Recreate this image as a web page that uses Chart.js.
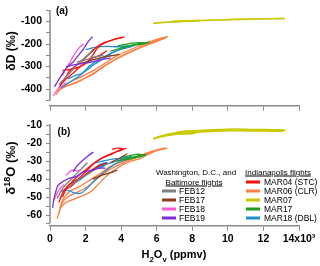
<!DOCTYPE html>
<html>
<head>
<meta charset="utf-8">
<script src="https://cdn.jsdelivr.net/npm/chart.js@4"></script>
<style>
  body { margin: 0; background: #fff; }
  #wrap { position: relative; width: 320px; height: 266px; overflow: hidden; font-family: "Liberation Sans", Arial, sans-serif; }
  canvas { position: absolute; left: 0; }
  .t { position: absolute; white-space: nowrap; color: #000; }
  .rot { transform: translate(-50%, -50%) rotate(-90deg); font-weight: bold; font-size: 12px; }
  .lab { font-weight: bold; font-size: 10px; transform: translate(-50%, -50%); }
  .hdr { font-size: 8px; transform: translate(-50%, -50%); }
  .item { font-size: 8.5px; transform: translateY(-50%); }
  .sw { position: absolute; height: 3px; width: 14px; transform: translateY(-50%); }
  sub, sup { font-size: 70%; }
</style>
</head>
<body>
<div id="wrap">
  <canvas id="chartD" width="320" height="116" style="top:0"></canvas>
  <canvas id="chartO" width="320" height="156" style="top:110px"></canvas>

  <div class="t lab" style="left:62px;top:10px">(a)</div>
  <div class="t lab" style="left:64px;top:131px">(b)</div>
  <div class="t rot" style="left:11px;top:51px">δD (‰)</div>
  <div class="t rot" style="left:10px;top:168px;font-size:13px">δ<sup>18</sup>O (‰)</div>
  <div class="t" style="left:174px;top:256px;transform:translate(-50%,-50%);font-weight:bold;font-size:11px">H<sub>2</sub>O<sub>v</sub> (ppmv)</div>

  <div class="t hdr" style="left:196px;top:172px">Washington, D.C., and</div>
  <div class="t hdr" style="left:194px;top:181.5px;text-decoration:underline">Baltimore flights</div>
  <div class="t hdr" style="left:278px;top:172px;text-decoration:underline">Indianapolis flights</div>
  <div id="legend"></div>
</div>

<script>
// x values in ppmv x 10^3
const xTicks = [0, 2, 4, 6, 8, 10, 12, 14];
const dDTicks = [-50, -100, -150, -200, -250, -300, -350, -400, -450];
const d18OTicks = [-10, -15, -20, -25, -30, -35, -40, -45, -50, -55, -60, -65];

// Washington, D.C., and Baltimore flights
const feb12D = [
  [[0.5,-380],[0.8,-355],[1.1,-330],[1.5,-295],[1.9,-265],[2.3,-235],[2.4,-222]],
  [[1.5,-280],[2.0,-270],[2.5,-258],[3.0,-250]]
];
const feb12O = [
  [[0.4,-51],[0.6,-47],[0.9,-43],[1.2,-40],[1.5,-37],[1.8,-34],[2.1,-31]],
  [[1.0,-45],[1.5,-41],[2.0,-38],[2.5,-35]]
];
const feb17D = [
  [[1.8,-285],[2.4,-270],[3.0,-258],[3.6,-250],[3.9,-245]]
];
const feb17O = [
  [[2.4,-40],[2.9,-38],[3.4,-36.5],[3.8,-35]],
  [[3.4,-31],[3.9,-28.5],[4.35,-26]]
];
const feb18D = [
  [[0.2,-430],[0.35,-410],[0.5,-395],[0.7,-385],[0.9,-370]],
  [[0.7,-340],[0.9,-310],[1.1,-285],[1.3,-255],[1.5,-230],[1.7,-212],[1.9,-200]]
];
const feb18O = [
  [[0.2,-52],[0.3,-50],[0.45,-47],[0.6,-45],[0.8,-43]],
  [[0.9,-38],[1.1,-36],[1.3,-35],[1.5,-35.5],[1.7,-35]]
];
const feb19D = [
  [[0.25,-390],[0.4,-370],[0.6,-345],[0.8,-320],[1.0,-300],[1.3,-280],[1.6,-250],[1.9,-220],[2.1,-195],[2.3,-175],[2.4,-168]],
  [[0.9,-300],[1.5,-290],[2.0,-285],[2.6,-275],[3.0,-268],[3.4,-262]]
];
const feb19O = [
  [[0.15,-56],[0.2,-52],[0.3,-48],[0.45,-43.5],[0.8,-41],[1.1,-39.5],[1.5,-38.5],[1.9,-36],[2.4,-35],[2.8,-34],[3.1,-34]],
  [[1.3,-36],[1.5,-33],[1.8,-30],[2.1,-27.5],[2.45,-25]]
];

// Indianapolis flights
const mar04D = [
  [[0.5,-395],[0.7,-370],[0.9,-345],[1.1,-320],[1.4,-300],[1.8,-275],[2.2,-245],[2.6,-215],[3.0,-195],[3.4,-185],[3.8,-175],[4.2,-168]],
  [[0.7,-318],[1.2,-312],[1.7,-300],[2.1,-280],[2.4,-250],[2.7,-215],[3.0,-198],[3.5,-182],[4.1,-170]],
  [[0.6,-380],[0.9,-355],[1.3,-330],[1.7,-300],[2.0,-285],[2.4,-262],[2.8,-250],[3.2,-230]]
];
const mar04O = [
  [[0.5,-53],[0.7,-48],[0.9,-45],[1.2,-42],[1.6,-38],[2.0,-35],[2.5,-31],[3.0,-28],[3.5,-26],[3.9,-24],[4.3,-23]],
  [[0.8,-46],[1.2,-44],[1.6,-40],[2.0,-36],[2.4,-32],[2.8,-29],[3.2,-27],[3.7,-25],[4.1,-23.5],[3.8,-22.8],[3.5,-23.5]],
  [[0.7,-50],[1.0,-44],[1.4,-41],[1.8,-39],[2.2,-36],[2.7,-33],[3.2,-31]]
];
const mar06D = [
  [[0.35,-425],[0.5,-405],[0.8,-390],[1.2,-378],[1.8,-358],[2.4,-335],[3.0,-300],[3.6,-272],[4.2,-248],[4.8,-226],[5.4,-205],[6.0,-188],[6.6,-168]],
  [[0.45,-410],[0.7,-395],[1.0,-385],[1.5,-372],[2.0,-350],[2.6,-322],[3.2,-292],[3.8,-262],[4.4,-238],[5.0,-218],[5.6,-200],[6.2,-180],[6.6,-168],[6.2,-175],[5.5,-192]],
  [[0.6,-398],[0.9,-378],[1.3,-362],[1.9,-340],[2.5,-315],[3.1,-285],[3.7,-255],[4.3,-232],[4.9,-212],[5.5,-196],[6.1,-178]]
];
const mar06O = [
  [[0.4,-62],[0.6,-56],[0.9,-53],[1.4,-51],[1.9,-49],[2.3,-47],[2.8,-42],[3.2,-38],[3.7,-34.5],[4.1,-32],[4.6,-30],[5.1,-28.5],[5.6,-26],[6.1,-24],[6.6,-23]],
  [[0.5,-59],[0.7,-53],[1.0,-50],[1.5,-47.5],[2.0,-45],[2.5,-41],[3.0,-37],[3.5,-34],[4.0,-31.5],[4.5,-29.5],[5.0,-27.5],[5.5,-25.5],[6.0,-24],[6.5,-22.8],[6.0,-23.8],[5.3,-26]],
  [[0.55,-56],[0.75,-51],[1.1,-47],[1.6,-44.5],[2.2,-41],[2.8,-37],[3.4,-33],[4.0,-30.5],[4.6,-28.5],[5.2,-26.5],[5.8,-25]]
];
const mar07D = [
  [[5.8,-108],[6.5,-103],[7.5,-98],[8.5,-95],[9.8,-92],[11,-89],[12,-88],[13.2,-87],[12,-88.5],[10.5,-91],[9,-94],[8,-97],[7,-101],[6.2,-105],[5.8,-108]],
  [[6.8,-100],[7.5,-97],[8.4,-96],[7.6,-99],[6.9,-102]]
];
const mar07O = [
  [[5.8,-17.5],[6.5,-15.5],[7.2,-14],[8.0,-13.2],[9.0,-12.8],[10.3,-12.2],[11.5,-12.5],[12.5,-12.6],[13.2,-12.8],[13.0,-13.4],[11.5,-13.3],[10.3,-13.2],[9.0,-13.6],[8.0,-14.2],[7.0,-15.3],[6.2,-16.6],[5.8,-17.8]],
  [[7.0,-14.5],[7.6,-13.5],[8.2,-14.3],[7.5,-15],[7.0,-14.5]]
];
const mar17D = [
  [[3.4,-232],[3.8,-222],[4.2,-212],[4.6,-205],[5.0,-198],[5.4,-194],[5.6,-192],[5.2,-200],[4.8,-204],[4.4,-210],[4.0,-218]],
  [[3.8,-208],[4.2,-202],[4.6,-196],[5.0,-194],[5.3,-196]]
];
const mar17O = [
  [[3.8,-30],[4.2,-29],[4.6,-28],[5.0,-27],[5.4,-26.5],[5.0,-27.8],[4.6,-28.5],[4.2,-29.5]],
  [[4.0,-28],[4.5,-27],[5.0,-26.2],[5.3,-27]]
];
const mar18D = [
  [[0.6,-395],[1.0,-375],[1.5,-350],[2.0,-320],[2.5,-290],[3.0,-265],[3.5,-240],[4.0,-222],[4.5,-212]],
  [[1.0,-355],[1.4,-340],[1.8,-330],[2.2,-300],[2.6,-275],[3.2,-250],[3.8,-228],[4.4,-215],[4.8,-205]],
  [[2.0,-225],[2.6,-214],[3.2,-210],[3.8,-212],[4.4,-208],[4.8,-205]]
];
const mar18O = [
  [[0.6,-47],[0.9,-46],[1.3,-47.5],[1.7,-48],[2.0,-46],[2.4,-42],[2.8,-38],[3.2,-35],[3.6,-32],[4.0,-30],[4.4,-29]],
  [[1.2,-43],[1.6,-41],[2.0,-38],[2.4,-35],[2.8,-32],[3.2,-31],[3.0,-33],[2.6,-34],[3.4,-31],[3.9,-29.5],[4.5,-28]],
  [[2.5,-31],[3.0,-30],[3.5,-29],[4.0,-28.5],[4.6,-27.5]]
];

const axisColor = '#8a8a8a';
const tickFont = { family: '"Liberation Sans", Arial, sans-serif', size: 10.5, weight: 'bold' };

// draw order: first entry ends up on top
const flights = [
  { name: 'FEB19', color: '#7b2fd8', d: feb19D, o: feb19O },
  { name: 'FEB18', color: '#ff5ad2', d: feb18D, o: feb18O },
  { name: 'FEB17', color: '#8b3a1a', d: feb17D, o: feb17O },
  { name: 'FEB12', color: '#7f7f7f', d: feb12D, o: feb12O },
  { name: 'MAR07', color: '#c9c900', d: mar07D, o: mar07O },
  { name: 'MAR17', color: '#1f9f1f', d: mar17D, o: mar17O },
  { name: 'MAR04', color: '#f41010', d: mar04D, o: mar04O },
  { name: 'MAR18', color: '#1e8fd0', d: mar18D, o: mar18O },
  { name: 'MAR06', color: '#ff7f44', d: mar06D, o: mar06O }
];

const buildSets = (key) => {
  const sets = [];
  flights.forEach(f => {
    f[key].forEach(trace => {
      sets.push({
        label: f.name,
        data: trace.map(p => ({ x: p[0], y: p[1] })),
        borderColor: f.color,
        backgroundColor: f.color,
        borderWidth: f.name === 'MAR07' ? 1.6 : 1.3,
        showLine: true,
        pointRadius: 0,
        tension: 0.3
      });
    });
  });
  return sets;
};

const yAxisLine = {
  id: 'yAxisLine',
  afterDraw(chart, args, opts) {
    const s = chart.scales.y;
    const ctx = chart.ctx;
    const x = chart.chartArea.left;
    ctx.save();
    ctx.strokeStyle = axisColor;
    ctx.lineWidth = 1.5;
    ctx.beginPath();
    ctx.moveTo(x, s.getPixelForValue(opts.from));
    ctx.lineTo(x, s.getPixelForValue(opts.to));
    ctx.stroke();
    ctx.restore();
  }
};

const makeChart = (id, key, yMin, yMax, yTicks, major, lineFrom, lineTo, showX, padTop, xHeight) => {
  return new Chart(document.getElementById(id), {
    type: 'scatter',
    data: { datasets: buildSets(key) },
    plugins: [yAxisLine],
    options: {
      responsive: false,
      animation: false,
      layout: { padding: { top: padTop, right: 21, left: 0, bottom: 0 } },
      scales: {
        x: {
          type: 'linear',
          min: 0,
          max: 14,
          afterBuildTicks: (scale) => { scale.ticks = xTicks.map(v => ({ value: v })); },
          afterFit: (scale) => { scale.height = xHeight; },
          ticks: {
            font: tickFont,
            color: '#000',
            padding: 2,
            maxRotation: 0,
            autoSkip: false,
            callback: (v) => showX ? (v === 14 ? '14x10³' : String(v)) : ''
          },
          grid: { drawOnChartArea: false, drawTicks: true, tickLength: 5, tickColor: axisColor, tickWidth: 1 },
          border: { display: true, color: axisColor, width: 1.5 }
        },
        y: {
          type: 'linear',
          min: yMin,
          max: yMax,
          afterBuildTicks: (scale) => { scale.ticks = yTicks.map(v => ({ value: v })); },
          afterFit: (scale) => { scale.width = 50; },
          ticks: {
            font: tickFont,
            color: '#000',
            padding: 4,
            autoSkip: false,
            callback: (v) => (v % major === 0 ? String(v) : '')
          },
          grid: { drawOnChartArea: false, drawTicks: true, tickLength: 4, tickColor: axisColor, tickWidth: 1 },
          border: { display: false }
        }
      },
      plugins: {
        legend: { display: false },
        tooltip: { enabled: false },
        yAxisLine: { from: lineFrom, to: lineTo }
      }
    }
  });
};

makeChart('chartD', 'd', -474, -50, dDTicks, 100, -50, -452, false, 4, 6);
makeChart('chartO', 'o', -66, -9, d18OTicks, 10, -9.5, -64.5, true, 13.2, 40.2);

// legend (two columns, same colours as the series)
const legendLeft = ['FEB12', 'FEB17', 'FEB18', 'FEB19'];
const legendRight = ['MAR04 (STC)', 'MAR06 (CLR)', 'MAR07', 'MAR17', 'MAR18 (DBL)'];
const colorOf = (label) => flights.find(f => label.startsWith(f.name)).color;
const legend = document.getElementById('legend');
const addItem = (label, swX, txtX, y) => {
  const sw = document.createElement('div');
  sw.className = 'sw';
  sw.style.left = swX + 'px';
  sw.style.top = y + 'px';
  sw.style.background = colorOf(label);
  legend.appendChild(sw);
  const t = document.createElement('div');
  t.className = 't item';
  t.style.left = txtX + 'px';
  t.style.top = y + 'px';
  t.textContent = label;
  legend.appendChild(t);
};
legendLeft.forEach((l, i) => addItem(l, 162, 179, 190.7 + i * 9.1));
legendRight.forEach((l, i) => addItem(l, 246, 264, 182 + i * 9));
</script>
</body>
</html>
